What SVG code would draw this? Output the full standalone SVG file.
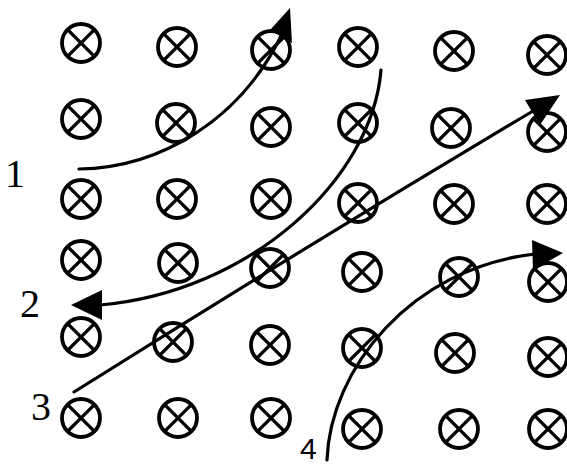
<svg xmlns="http://www.w3.org/2000/svg" xmlns:xlink="http://www.w3.org/1999/xlink" width="567" height="466" viewBox="0 0 567 466">
  <style>
    .ring { fill: none; stroke: #000; stroke-width: 3.8; }
    .cross { stroke: #000; stroke-width: 3.4; }
    .path { fill: none; stroke: #000; stroke-width: 3.2; stroke-linecap: round; }
    .head { fill: #000; stroke: none; }
    .lbl { font-family: "Liberation Serif", "Times New Roman", serif; font-size: 40px; fill: #000; }
    .lbl4 { font-family: "Liberation Sans", Arial, sans-serif; font-size: 30px; fill: #000; }
  </style>
  <defs>
    <g id="b">
      <circle class="ring" cx="0" cy="0" r="19"/>
      <line class="cross" x1="-13.4" y1="-13.4" x2="13.4" y2="13.4"/>
      <line class="cross" x1="-13.4" y1="13.4" x2="13.4" y2="-13.4"/>
    </g>
  </defs>
  <rect width="567" height="466" fill="#fff"/>
  <g id="field">
    <use xlink:href="#b" href="#b" x="81" y="43"/>
    <use xlink:href="#b" href="#b" x="177" y="47"/>
    <use xlink:href="#b" href="#b" x="271" y="50"/>
    <use xlink:href="#b" href="#b" x="358" y="47"/>
    <use xlink:href="#b" href="#b" x="454" y="51"/>
    <use xlink:href="#b" href="#b" x="547" y="55"/>
    <use xlink:href="#b" href="#b" x="81" y="119"/>
    <use xlink:href="#b" href="#b" x="176" y="123"/>
    <use xlink:href="#b" href="#b" x="271" y="127"/>
    <use xlink:href="#b" href="#b" x="358" y="123"/>
    <use xlink:href="#b" href="#b" x="451" y="128"/>
    <use xlink:href="#b" href="#b" x="547" y="132"/>
    <use xlink:href="#b" href="#b" x="81" y="199"/>
    <use xlink:href="#b" href="#b" x="177" y="199"/>
    <use xlink:href="#b" href="#b" x="271" y="199"/>
    <use xlink:href="#b" href="#b" x="358" y="203"/>
    <use xlink:href="#b" href="#b" x="454" y="204"/>
    <use xlink:href="#b" href="#b" x="547" y="204"/>
    <use xlink:href="#b" href="#b" x="81" y="260"/>
    <use xlink:href="#b" href="#b" x="178" y="263"/>
    <use xlink:href="#b" href="#b" x="270" y="268"/>
    <use xlink:href="#b" href="#b" x="362" y="272"/>
    <use xlink:href="#b" href="#b" x="459" y="277"/>
    <use xlink:href="#b" href="#b" x="548" y="282"/>
    <use xlink:href="#b" href="#b" x="81" y="337"/>
    <use xlink:href="#b" href="#b" x="173" y="342"/>
    <use xlink:href="#b" href="#b" x="270" y="345"/>
    <use xlink:href="#b" href="#b" x="362" y="348"/>
    <use xlink:href="#b" href="#b" x="455" y="353"/>
    <use xlink:href="#b" href="#b" x="548" y="357"/>
    <use xlink:href="#b" href="#b" x="81" y="418"/>
    <use xlink:href="#b" href="#b" x="178" y="418"/>
    <use xlink:href="#b" href="#b" x="271" y="418"/>
    <use xlink:href="#b" href="#b" x="362" y="429"/>
    <use xlink:href="#b" href="#b" x="459" y="429"/>
    <use xlink:href="#b" href="#b" x="548" y="429"/>
  </g>
  <g id="connectors">
    <path id="p1" class="path" d="M79 169 C160 168 240 120 281 36"/>
    <polygon class="head" points="290,8 270,30 292,43"/>
    <path id="p2" class="path" d="M381 70 C372 180 250 292 100 305"/>
    <polygon class="head" points="71,305 102,290 102,320"/>
    <path id="p3" class="path" d="M74 392 Q300 250 533 111"/>
    <polygon class="head" points="560,95 525,100 540,125"/>
    <path id="p4" class="path" d="M327 460 C330 370 410 268 535 254"/>
    <polygon class="head" points="563,253 532,240 533,270"/>
  </g>
  <g id="labels">
    <text class="lbl" x="5" y="187">1</text>
    <text class="lbl" x="20" y="317">2</text>
    <text class="lbl" x="31" y="420">3</text>
    <text class="lbl4" x="300" y="459">4</text>
  </g>
</svg>
